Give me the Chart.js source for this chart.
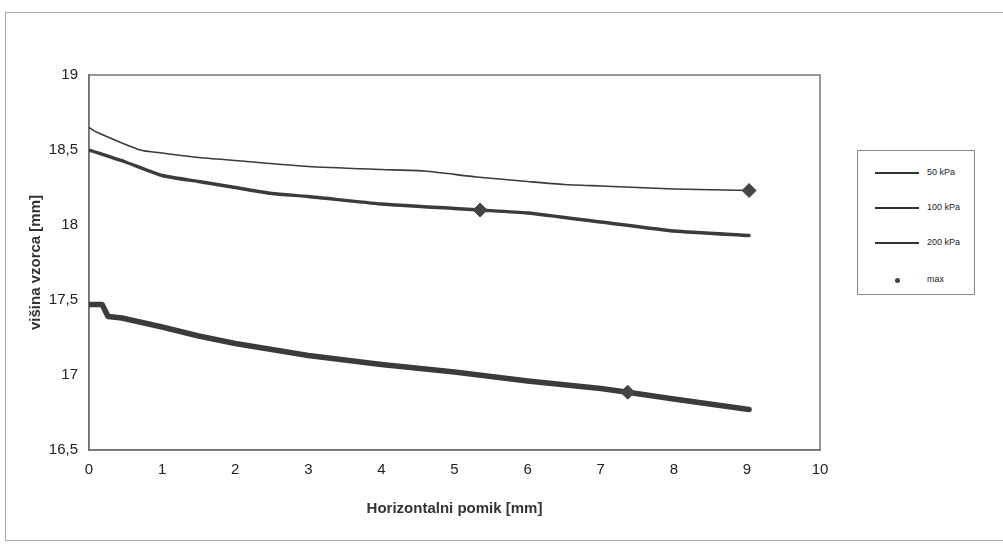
<!DOCTYPE html>
<html>
<head>
<meta charset="utf-8">
<script src="https://cdn.jsdelivr.net/npm/chart.js@4.4.1/dist/chart.umd.min.js"></script>
<style>
  body { margin: 0; background: #fff; font-family: "Liberation Sans", Arial, sans-serif; }
  #wrap { position: relative; width: 1003px; height: 544px; }
  #frame { position: absolute; left: 5px; top: 12px; width: 1010px; height: 529px;
           border: 1px solid #aaa; box-sizing: border-box; }
  #legend { position: absolute; left: 857px; top: 150px; width: 118px; height: 145px;
            border: 1px solid #888; box-sizing: border-box; background: #fff; }
  .row { position: absolute; left: 0; height: 12px; font-size: 9px; color: #222; }
  .row .ln { position: absolute; left: 17px; top: 5px; width: 44px; height: 2px; background: #333; }
  .row .dot { position: absolute; left: 37px; top: 4px; width: 5px; height: 5px; border-radius: 50%; background: #444; }
  .row span { position: absolute; left: 69px; top: 0; white-space: nowrap; }
</style>
</head>
<body>
<div id="wrap">
  <div id="frame"></div>
  <canvas id="chart" width="1003" height="544"></canvas>
  <div id="legend">
    <div class="row" style="top:16px"><div class="ln"></div><span>50 kPa</span></div>
    <div class="row" style="top:51px"><div class="ln"></div><span>100 kPa</span></div>
    <div class="row" style="top:86px"><div class="ln"></div><span>200 kPa</span></div>
    <div class="row" style="top:123px"><div class="dot"></div><span>max</span></div>
  </div>
</div>
<script>
// values (mm)
const x50  = [0, 0.1, 0.7, 1, 1.5, 2, 3, 4, 4.6, 5.3, 6, 6.5, 7, 8, 9.03];
const y50  = [18.65, 18.62, 18.5, 18.48, 18.45, 18.43, 18.39, 18.37, 18.36, 18.32, 18.29, 18.27, 18.26, 18.24, 18.23];

const x100 = [0, 0.5, 1, 1.5, 2, 2.5, 3, 4, 5, 5.35, 6, 7, 8, 9.03];
const y100 = [18.5, 18.42, 18.33, 18.29, 18.25, 18.21, 18.19, 18.14, 18.11, 18.1, 18.08, 18.02, 17.96, 17.93];

const x200 = [0, 0.18, 0.26, 0.45, 1, 1.5, 2, 2.5, 3, 4, 5, 6, 7, 7.37, 8, 9.03];
const y200 = [17.47, 17.47, 17.39, 17.38, 17.32, 17.26, 17.21, 17.17, 17.13, 17.07, 17.02, 16.96, 16.91, 16.885, 16.84, 16.77];

const xMax = [9.03, 5.35, 7.37];
const yMax = [18.23, 18.1, 16.885];

const xTicks = [0, 1, 2, 3, 4, 5, 6, 7, 8, 9, 10];
const yTicks = [16.5, 17, 17.5, 18, 18.5, 19];

function pts(xs, ys) {
    return xs.map((x, i) => ({ x: x, y: ys[i] }));
}

const lineCol = '#3b3b3b';

// grey box around the plot area
const plotFrame = {
    id: 'plotFrame',
    beforeDatasetsDraw(chart) {
        const a = chart.chartArea, c = chart.ctx;
        c.save();
        c.strokeStyle = '#777';
        c.lineWidth = 1.5;
        c.strokeRect(a.left, a.top, a.right - a.left, a.bottom - a.top);
        c.restore();
    }
};

let ctx = document.getElementById('chart').getContext('2d');
new Chart(ctx, {
    type: 'scatter',
    data: {
        datasets: [
            { label: 'max', data: pts(xMax, yMax), pointStyle: 'rectRot', pointRadius: 7,
              backgroundColor: '#444', borderColor: '#444', order: 0 },
            { label: '50 kPa', data: pts(x50, y50), showLine: true, pointRadius: 0,
              borderColor: lineCol, borderWidth: 1.6, tension: 0.2, order: 1 },
            { label: '100 kPa', data: pts(x100, y100), showLine: true, pointRadius: 0,
              borderColor: lineCol, borderWidth: 3.4, tension: 0.2, borderCapStyle: 'round', order: 2 },
            { label: '200 kPa', data: pts(x200, y200), showLine: true, pointRadius: 0,
              borderColor: lineCol, borderWidth: 5.5, tension: 0, borderCapStyle: 'round',
              borderJoinStyle: 'round', order: 3 }
        ]
    },
    options: {
        responsive: false,
        animation: false,
        layout: { padding: { top: 75, right: 183, bottom: 0, left: 0 } },
        plugins: { legend: { display: false }, tooltip: { enabled: false } },
        scales: {
            x: {
                type: 'linear', min: 0, max: 10,
                afterBuildTicks: s => { s.ticks = xTicks.map(v => ({ value: v })); },
                afterFit: s => { s.height = 94; },
                grid: { display: false, drawTicks: true, tickLength: 5, color: '#666' },
                border: { color: '#666', width: 1.5 },
                ticks: { color: '#222', font: { family: 'Liberation Sans', size: 15 }, padding: 6 },
                title: { display: true, text: 'Horizontalni pomik [mm]', color: '#333',
                         font: { family: 'Liberation Sans', size: 15, weight: 'bold' },
                         padding: { top: 0, bottom: 26 } }
            },
            y: {
                type: 'linear', min: 16.5, max: 19,
                afterBuildTicks: s => { s.ticks = yTicks.map(v => ({ value: v })); },
                afterFit: s => { s.width = 89; },
                grid: { display: false, drawTicks: true, tickLength: 7, color: '#666' },
                border: { color: '#666', width: 1.5 },
                ticks: { color: '#222', font: { family: 'Liberation Sans', size: 15 }, padding: 4,
                         callback: v => String(v).replace('.', ',') },
                title: { display: true, text: 'višina vzorca [mm]', color: '#333',
                         font: { family: 'Liberation Sans', size: 15, weight: 'bold' },
                         padding: { top: 27, bottom: 0 } }
            }
        }
    },
    plugins: [plotFrame]
});
</script>
</body>
</html>
